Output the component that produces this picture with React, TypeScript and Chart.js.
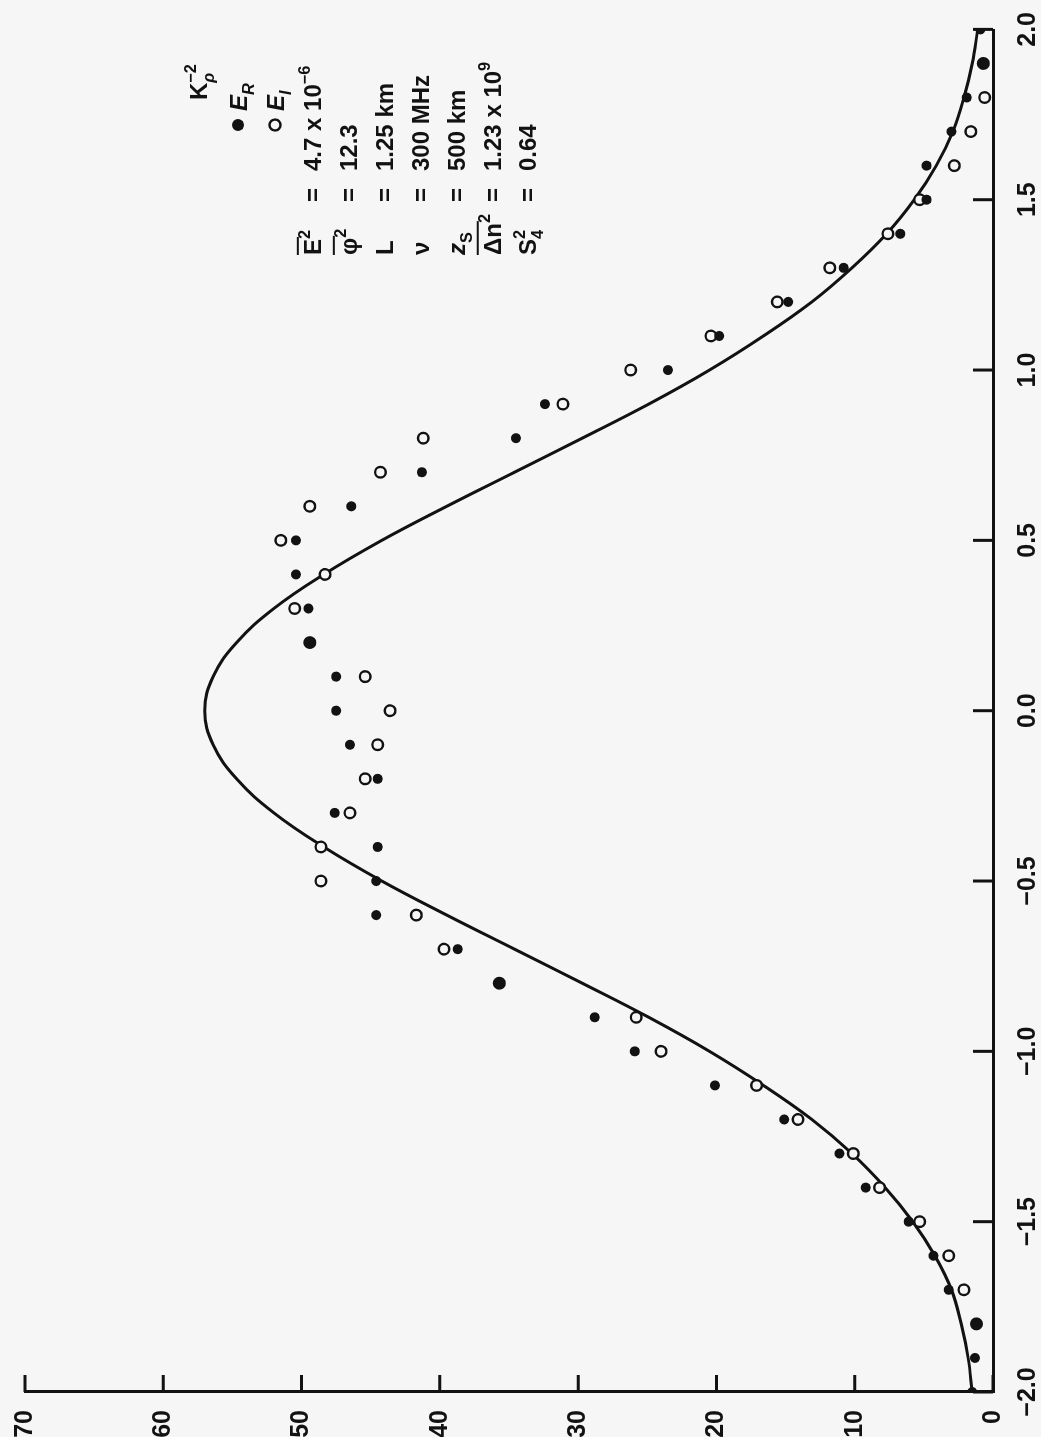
import React, { useEffect, useRef } from "react";
import { Chart, registerables } from "chart.js";

Chart.register(...registerables);

// ---- data ----
const X_VALUES = [
  -2.0, -1.9, -1.8, -1.7, -1.6, -1.5, -1.4, -1.3, -1.2, -1.1,
  -1.0, -0.9, -0.8, -0.7, -0.6, -0.5, -0.4, -0.3, -0.2, -0.1,
  0.0, 0.1, 0.2, 0.3, 0.4, 0.5, 0.6, 0.7, 0.8, 0.9,
  1.0, 1.1, 1.2, 1.3, 1.4, 1.5, 1.6, 1.7, 1.8, 1.9, 2.0,
];

// theoretical K_rho^-2 curve
const CURVE_K = [
  1.5, 1.8, 2.3, 3.0, 4.2, 5.8, 7.8, 10.2, 13.1, 16.6,
  20.5, 24.9, 29.7, 34.6, 39.5, 44.2, 48.4, 52.0, 54.7, 56.4,
  57.0, 56.4, 54.7, 52.0, 48.4, 44.2, 39.5, 34.6, 29.7, 24.9,
  20.5, 16.6, 13.1, 10.2, 7.7, 5.7, 4.1, 2.9, 2.1, 1.5, 1.1,
];

// E_R (filled dots)
const E_R = [
  1.5, 1.3, 1.2, 3.2, 4.3, 6.1, 9.2, 11.1, 15.1, 20.1,
  25.9, 28.8, 35.7, 38.7, 44.6, 44.6, 44.5, 47.6, 44.5, 46.5,
  47.5, 47.5, 49.4, 49.5, 50.4, 50.4, 46.4, 41.3, 34.5, 32.4,
  23.5, 19.8, 14.8, 10.8, 6.7, 4.8, 4.8, 3.0, 1.9, 0.7, 0.9,
];

// E_I (open circles)
const E_I = [
  null, null, 1.2, 2.1, 3.2, 5.3, 8.2, 10.1, 14.1, 17.1,
  24.0, 25.8, 35.7, 39.7, 41.7, 48.6, 48.6, 46.5, 45.4, 44.5,
  43.6, 45.4, 49.4, 50.5, 48.3, 51.5, 49.4, 44.3, 41.2, 31.1,
  26.2, 20.4, 15.6, 11.8, 7.6, 5.3, 2.8, 1.6, 0.6, 0.7, null,
];

const X_TICKS = [-2.0, -1.5, -1.0, -0.5, 0.0, 0.5, 1.0, 1.5, 2.0];
const Y_TICKS = [0, 10, 20, 30, 40, 50, 60, 70];

// legend / parameter block text
const PARAM_SYMBOLS = ["E", "φ", "L", "ν", "z", "Δn", "S"];
const PARAM_VALUES = ["4.7 x 10", "12.3", "1.25 km", "300 MHz", "500 km", "1.23 x 10", "0.64"];

const INK = "#121212";
const BG = "#f6f6f6";
const FONT = '"Liberation Sans", Arial, sans-serif';

type Seg = { t: string; sup?: boolean; sub?: boolean; stackSub?: string; over?: boolean; it?: boolean };

function drawRich(ctx: CanvasRenderingContext2D, segs: Seg[], x: number, baseline: number, size: number) {
  let cx = x;
  const small = size * 0.68;
  for (const s of segs) {
    if (s.stackSub !== undefined) {
      ctx.font = `bold ${small}px ${FONT}`;
      ctx.fillText(s.t, cx, baseline - size * 0.45);
      const w1 = ctx.measureText(s.t).width;
      ctx.font = `${s.it ? "italic " : ""}bold ${small}px ${FONT}`;
      ctx.fillText(s.stackSub, cx, baseline + size * 0.3);
      const w2 = ctx.measureText(s.stackSub).width;
      cx += Math.max(w1, w2) + 1;
      continue;
    }
    const fs = s.sup || s.sub ? small : size;
    ctx.font = `${s.it ? "italic " : ""}bold ${fs}px ${FONT}`;
    const dy = s.sup ? -size * 0.45 : s.sub ? size * 0.3 : 0;
    ctx.fillText(s.t, cx, baseline + dy);
    const w = ctx.measureText(s.t).width;
    if (s.over) {
      ctx.beginPath();
      ctx.lineWidth = 2;
      ctx.moveTo(cx, baseline - size * 0.95);
      ctx.lineTo(cx + w + 2, baseline - size * 0.95);
      ctx.stroke();
    }
    cx += w + (s.sup || s.sub ? 1 : 0);
  }
  return cx;
}

const fmtX = (v: number) => (v < 0 ? "\u2212" : "") + Math.abs(v).toFixed(1);

const inwardTicks = {
  id: "inwardTicks",
  afterDraw(chart: any) {
    const { ctx, chartArea, scales } = chart;
    ctx.save();
    ctx.strokeStyle = INK;
    ctx.lineWidth = 3;
    ctx.beginPath();
    for (const v of Y_TICKS) {
      const y = scales.y.getPixelForValue(v);
      ctx.moveTo(chartArea.left, y);
      ctx.lineTo(chartArea.left + 17, y);
    }
    for (const v of X_TICKS) {
      const x = scales.x.getPixelForValue(v);
      ctx.moveTo(x, chartArea.bottom);
      ctx.lineTo(x, chartArea.bottom - 20);
    }
    ctx.stroke();
    ctx.restore();
  },
};

const paramBlock = {
  id: "paramBlock",
  afterDraw(chart: any) {
    const ctx: CanvasRenderingContext2D = chart.ctx;
    ctx.save();
    ctx.fillStyle = INK;
    ctx.strokeStyle = INK;
    ctx.textBaseline = "alphabetic";
    ctx.textAlign = "left";
    const size = 24;
    const bl = (v: number) => v + size * 0.36;

    // K_rho^-2
    drawRich(ctx, [{ t: "K" }, { t: "\u22122", stackSub: "ρ", it: true }], 1337, bl(198), size);
    // E_R
    ctx.beginPath();
    ctx.arc(1312, 238, 6, 0, Math.PI * 2);
    ctx.fill();
    drawRich(ctx, [{ t: "E", it: true }, { t: "R", sub: true, it: true }], 1326, bl(238), size);
    // E_I
    ctx.beginPath();
    ctx.lineWidth = 2.4;
    ctx.arc(1312, 275, 5.5, 0, Math.PI * 2);
    ctx.stroke();
    drawRich(ctx, [{ t: "E", it: true }, { t: "I", sub: true, it: true }], 1326, bl(275), size);

    const rows: { v: number; sym: Seg[]; val: Seg[] }[] = [
      { v: 312, sym: [{ t: PARAM_SYMBOLS[0], over: true }, { t: "2", sup: true }], val: [{ t: PARAM_VALUES[0] }, { t: "\u22126", sup: true }] },
      { v: 348, sym: [{ t: PARAM_SYMBOLS[1], over: true }, { t: "2", sup: true }], val: [{ t: PARAM_VALUES[1] }] },
      { v: 384, sym: [{ t: PARAM_SYMBOLS[2] }], val: [{ t: PARAM_VALUES[2] }] },
      { v: 420, sym: [{ t: PARAM_SYMBOLS[3] }], val: [{ t: PARAM_VALUES[3] }] },
      { v: 456, sym: [{ t: PARAM_SYMBOLS[4], it: true }, { t: "S", sub: true }], val: [{ t: PARAM_VALUES[4] }] },
      { v: 492, sym: [{ t: PARAM_SYMBOLS[5], over: true }, { t: "2", sup: true }], val: [{ t: PARAM_VALUES[5] }, { t: "9", sup: true }] },
      { v: 527, sym: [{ t: PARAM_SYMBOLS[6] }, { t: "2", stackSub: "4" }], val: [{ t: PARAM_VALUES[6] }] },
    ];
    for (const r of rows) {
      drawRich(ctx, r.sym, 1182, bl(r.v), size);
      drawRich(ctx, [{ t: "=" }], 1235, bl(r.v), size);
      drawRich(ctx, r.val, 1266, bl(r.v), size);
    }
    ctx.restore();
  },
};

export default function App() {
  const ref = useRef<HTMLCanvasElement | null>(null);

  useEffect(() => {
    if (!ref.current) return;
    const tickFont = { family: FONT, size: 25, weight: "bold" as const };
    const chart = new Chart(ref.current, {
      type: "scatter",
      data: {
        datasets: [
          {
            label: "E_R",
            data: X_VALUES.map((x, i) => ({ x, y: E_R[i] })),
            pointRadius: 5,
            pointBorderWidth: 0,
            pointBackgroundColor: INK,
            showLine: false,
          },
          {
            label: "E_I",
            data: X_VALUES.map((x, i) => ({ x, y: E_I[i] as any })),
            pointRadius: 5.3,
            pointBorderWidth: 2.4,
            pointBorderColor: INK,
            pointBackgroundColor: BG,
            showLine: false,
          },
          {
            label: "K_rho^-2",
            data: X_VALUES.map((x, i) => ({ x, y: CURVE_K[i] })),
            showLine: true,
            pointRadius: 0,
            borderColor: INK,
            borderWidth: 3,
            tension: 0.4,
            fill: false,
          },
        ],
      },
      options: {
        animation: false,
        responsive: false,
        devicePixelRatio: 1,
        layout: { padding: { top: 23, right: 20, left: 0, bottom: 0 } },
        plugins: { legend: { display: false }, tooltip: { enabled: false } },
        scales: {
          x: {
            type: "linear",
            min: -2,
            max: 2,
            afterBuildTicks: (s: any) => {
              s.ticks = X_TICKS.map((v) => ({ value: v }));
            },
            afterFit: (s: any) => {
              s.height = 48;
            },
            ticks: {
              color: INK,
              font: tickFont,
              padding: 12,
              maxRotation: 0,
              minRotation: 0,
              autoSkip: false,
              callback: (v: any) => fmtX(Number(v)),
            },
            grid: { display: false },
            border: { display: true, color: INK, width: 3 },
          },
          y: {
            type: "linear",
            min: 0,
            max: 70,
            afterBuildTicks: (s: any) => {
              s.ticks = Y_TICKS.map((v) => ({ value: v }));
            },
            afterFit: (s: any) => {
              s.width = 45;
            },
            ticks: {
              color: INK,
              font: tickFont,
              padding: 10,
              autoSkip: false,
              callback: (v: any) => String(v),
            },
            grid: { display: false },
            border: { display: true, color: INK, width: 3 },
          },
        },
      },
      plugins: [inwardTicks, paramBlock],
    });
    return () => chart.destroy();
  }, []);

  return (
    <div
      style={{
        position: "fixed",
        left: 0,
        top: 0,
        width: 1041,
        height: 1437,
        overflow: "hidden",
        background: BG,
      }}
    >
      <div
        style={{
          position: "absolute",
          left: 0,
          top: 0,
          width: 1437,
          height: 1041,
          transformOrigin: "0 0",
          transform: "translate(0px, 1437px) rotate(-90deg)",
        }}
      >
        <canvas ref={ref} width={1437} height={1041} style={{ display: "block", width: 1437, height: 1041 }} />
      </div>
    </div>
  );
}
